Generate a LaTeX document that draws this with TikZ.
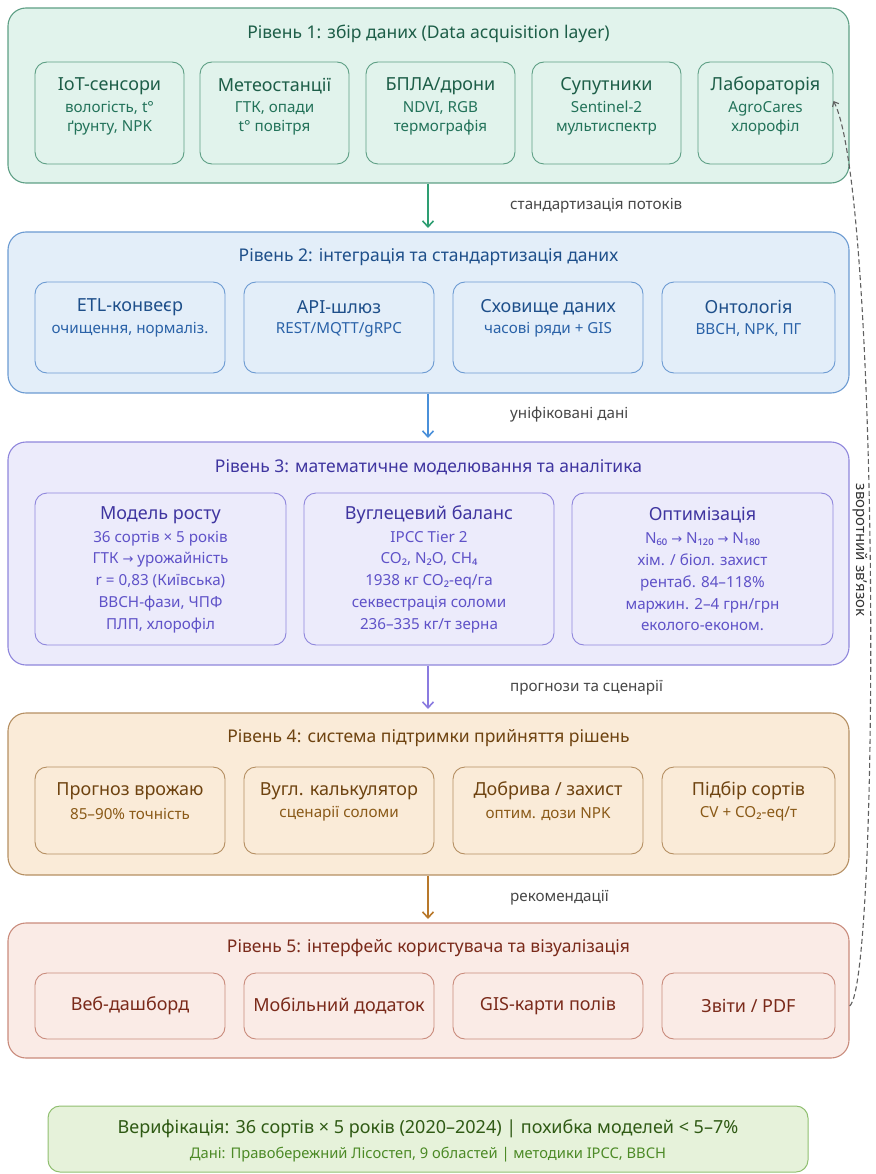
\documentclass[tikz,border=0pt]{standalone}
\usepackage{fontspec}
\setmainfont{Noto Sans}
\newfontfamily\symfont{DejaVu Sans}
\newcommand{\ar}{{\symfont\fontsize{13}{15}\selectfont →}}
\usetikzlibrary{arrows.meta}
\definecolor{gF}{HTML}{E1F3EC}\definecolor{gD}{HTML}{5E9F85}\definecolor{gT}{HTML}{1D5E48}\definecolor{gS}{HTML}{23735A}\definecolor{gA}{HTML}{2E9E72}
\definecolor{bF}{HTML}{E3EEF9}\definecolor{bD}{HTML}{6C9BD2}\definecolor{bT}{HTML}{1E4F8A}\definecolor{bS}{HTML}{2A62A8}\definecolor{bA}{HTML}{4A90DA}
\definecolor{pF}{HTML}{ECEBFB}\definecolor{pD}{HTML}{8F86DC}\definecolor{pT}{HTML}{3F35A0}\definecolor{pS}{HTML}{5F52C8}\definecolor{pA}{HTML}{8A7BE0}
\definecolor{oF}{HTML}{FAEBD8}\definecolor{oD}{HTML}{B58F62}\definecolor{oT}{HTML}{6E4310}\definecolor{oS}{HTML}{8A5A18}\definecolor{oA}{HTML}{B8782A}
\definecolor{rF}{HTML}{FAEBE6}\definecolor{rD}{HTML}{C98B7C}\definecolor{rT}{HTML}{7A2A1A}
\definecolor{vF}{HTML}{E6F2DA}\definecolor{vD}{HTML}{90BF70}\definecolor{vT}{HTML}{2F5A14}\definecolor{vS}{HTML}{4C8A26}
\tikzset{
  layer/.style={draw=#1D,fill=#1F,line width=1.1pt,rounded corners=18pt,minimum width=841pt,inner sep=0pt},
  sub/.style={draw=#1D,fill=#1F,line width=0.9pt,rounded corners=12pt,inner sep=0pt},
  ltitle/.style={text=#1T,font=\fontsize{17.5}{21}\selectfont,inner sep=0pt},
  stitle/.style={text=#1T,font=\fontsize{18}{22}\selectfont,inner sep=0pt},
  sdet/.style={text=#1S,font=\fontsize{15.2}{19}\selectfont,align=center,inner sep=0pt},
  flowarrow/.style={draw=#1A,line width=1.6pt,-{Straight Barb[length=6pt,width=11pt,line width=1.6pt]}},
  flowlabel/.style={text=black!72,font=\fontsize{15.2}{18}\selectfont,anchor=west,inner sep=0pt},
}
\begin{document}
\begin{tikzpicture}[x=1pt,y=-1pt]
\useasboundingbox (0,0) rectangle (875,1174);
% Layer 1
\node[layer=g,minimum height=175pt] (L1) at (428.5,95.5) {};
\node[ltitle=g] (L1t) at (428.5,34) {Рівень 1: збір даних (Data acquisition layer)};
\node[sub=g,minimum width=149pt,minimum height=102pt] (b11) at (109.5,113) {};
\node[sub=g,minimum width=149pt,minimum height=102pt] (b12) at (274.5,113) {};
\node[sub=g,minimum width=149pt,minimum height=102pt] (b13) at (440.5,113) {};
\node[sub=g,minimum width=149pt,minimum height=102pt] (b14) at (606.5,113) {};
\node[sub=g,minimum width=135pt,minimum height=102pt] (b15) at (765.5,113) {};
\node[stitle=g] (b11t) at (109.5,86) {IoT-сенсори};
\node[stitle=g] (b12t) at (274.5,86) {Метеостанції};
\node[stitle=g] (b13t) at (440.5,86) {БПЛА/дрони};
\node[stitle=g] (b14t) at (606.5,86) {Супутники};
\node[stitle=g] (b15t) at (765.5,86) {Лабораторія};
\node[sdet=g] (b11d) at (109.5,118) {вологість, t°\\ґрунту, NPK};
\node[sdet=g] (b12d) at (274.5,118) {ГТК, опади\\t° повітря};
\node[sdet=g] (b13d) at (440.5,118) {NDVI, RGB\\термографія};
\node[sdet=g] (b14d) at (606.5,118) {Sentinel-2\\мультиспектр};
\node[sdet=g] (b15d) at (765.5,118) {AgroCares\\хлорофіл};
% Layer 2
\node[layer=b,minimum height=161pt] (L2) at (428.5,312.5) {};
\node[ltitle=b] (L2t) at (428.5,257) {Рівень 2: інтеграція та стандартизація даних};
\node[sub=b,minimum width=190pt,minimum height=91pt] (b21) at (130,327.5) {};
\node[sub=b,minimum width=190pt,minimum height=91pt] (b22) at (339,327.5) {};
\node[sub=b,minimum width=190pt,minimum height=91pt] (b23) at (548,327.5) {};
\node[sub=b,minimum width=173pt,minimum height=91pt] (b24) at (748.5,327.5) {};
\node[stitle=b] (b21t) at (130,307) {ETL-конвеєр};
\node[stitle=b] (b22t) at (339,307) {API-шлюз};
\node[stitle=b] (b23t) at (548,307) {Сховище даних};
\node[stitle=b] (b24t) at (748.5,307) {Онтологія};
\node[sdet=b] (b21d) at (130,330) {очищення, нормаліз.};
\node[sdet=b] (b22d) at (339,330) {REST/MQTT/gRPC};
\node[sdet=b] (b23d) at (548,330) {часові ряди + GIS};
\node[sdet=b] (b24d) at (748.5,330) {ВВСН, NPK, ПГ};
% Layer 3
\node[layer=p,minimum height=223pt] (L3) at (428.5,553.5) {};
\node[ltitle=p] (L3t) at (428.5,467) {Рівень 3: математичне моделювання та аналітика};
\node[sub=p,minimum width=251pt,minimum height=152pt] (b31) at (160.5,569) {};
\node[sub=p,minimum width=250pt,minimum height=152pt] (b32) at (429,569) {};
\node[sub=p,minimum width=261pt,minimum height=152pt] (b33) at (702.5,569) {};
\node[stitle=p] (b31t) at (160.5,515) {Модель росту};
\node[stitle=p] (b32t) at (429,515) {Вуглецевий баланс};
\node[stitle=p] (b33t) at (702.5,515) {Оптимізація};
\node[sdet=p,font=\fontsize{15.2}{21.8}\selectfont] (b31d) at (160.5,582) {36 сортів × 5 років\\ГТК \ar{} урожайність\\r = 0,83 (Київська)\\ВВСН-фази, ЧПФ\\ПЛП, хлорофіл};
\node[sdet=p,font=\fontsize{15.2}{21.8}\selectfont] (b32d) at (429,582) {IPCC Tier 2\\CO₂, N₂O, CH₄\\1938 кг CO₂-eq/га\\секвестрація соломи\\236–335 кг/т зерна};
\node[sdet=p,font=\fontsize{15.2}{21.8}\selectfont] (b33d) at (702.5,582) {N₆₀ \ar{} N₁₂₀ \ar{} N₁₈₀\\хім. / біол. захист\\рентаб. 84–118\%\\маржин. 2–4 грн/грн\\еколого-економ.};
% Layer 4
\node[layer=o,minimum height=162pt] (L4) at (428.5,794) {};
\node[ltitle=o] (L4t) at (428.5,738) {Рівень 4: система підтримки прийняття рішень};
\node[sub=o,minimum width=190pt,minimum height=87pt] (b41) at (130,810.5) {};
\node[sub=o,minimum width=190pt,minimum height=87pt] (b42) at (339,810.5) {};
\node[sub=o,minimum width=190pt,minimum height=87pt] (b43) at (548,810.5) {};
\node[sub=o,minimum width=173pt,minimum height=87pt] (b44) at (748.5,810.5) {};
\node[stitle=o] (b41t) at (130,791) {Прогноз врожаю};
\node[stitle=o] (b42t) at (339,791) {Вугл. калькулятор};
\node[stitle=o] (b43t) at (548,791) {Добрива / захист};
\node[stitle=o] (b44t) at (748.5,791) {Підбір сортів};
\node[sdet=o] (b41d) at (130,814) {85–90\% точність};
\node[sdet=o] (b42d) at (339,814) {сценарії соломи};
\node[sdet=o] (b43d) at (548,814) {оптим. дози NPK};
\node[sdet=o] (b44d) at (748.5,814) {CV + CO₂-eq/т};
% Layer 5
\node[layer=r,minimum height=135pt] (L5) at (428.5,990.5) {};
\node[ltitle=r] (L5t) at (428.5,948) {Рівень 5: інтерфейс користувача та візуалізація};
\node[sub=r,minimum width=190pt,minimum height=66pt] (b51) at (130,1006) {};
\node[sub=r,minimum width=190pt,minimum height=66pt] (b52) at (339,1006) {};
\node[sub=r,minimum width=190pt,minimum height=66pt] (b53) at (548,1006) {};
\node[sub=r,minimum width=173pt,minimum height=66pt] (b54) at (748.5,1006) {};
\node[stitle=r] (b51t) at (130,1006) {Веб-дашборд};
\node[stitle=r] (b52t) at (339,1006) {Мобільний додаток};
\node[stitle=r] (b53t) at (548,1006) {GIS-карти полів};
\node[stitle=r] (b54t) at (748.5,1006) {Звіти / PDF};
% Verification
\node[draw=vD,fill=vF,line width=1pt,rounded corners=12pt,minimum width=760pt,minimum height=66pt,inner sep=0pt] (V) at (428,1139) {};
\node[text=vT,font=\fontsize{18}{21}\selectfont,inner sep=0pt] (Vt) at (428,1129) {Верифікація: 36 сортів × 5 років (2020–2024) | похибка моделей < 5–7\%};
\node[text=vS,font=\fontsize{14.7}{17}\selectfont,inner sep=0pt] (Vd) at (428,1155) {Дані: Правобережний Лісостеп, 9 областей | методики IPCC, ВВСН};
% Flow arrows
\coordinate (a1s) at (428,183.6); \coordinate (a1e) at (428,228);
\coordinate (a2s) at (428,393.6); \coordinate (a2e) at (428,438);
\coordinate (a3s) at (428,665.6); \coordinate (a3e) at (428,709);
\coordinate (a4s) at (428,875.6); \coordinate (a4e) at (428,919);
\draw[flowarrow=g] (a1s) -- (a1e);
\draw[flowarrow=b] (a2s) -- (a2e);
\draw[flowarrow=p] (a3s) -- (a3e);
\draw[flowarrow=o] (a4s) -- (a4e);
\node[flowlabel] (f1) at (510,206) {стандартизація потоків};
\node[flowlabel] (f2) at (510,415) {уніфіковані дані};
\node[flowlabel] (f3) at (510,688) {прогнози та сценарії};
\node[flowlabel] (f4) at (510,898) {рекомендації};
% Feedback
\coordinate (fbs) at (L5.east |- b54.center);
\draw[black!62,line width=1.1pt,dashed,dash pattern=on 5pt off 3pt,-{Straight Barb[length=4pt,width=7pt,line width=1.1pt]}] (fbs) .. controls (880,985) and (880,190) .. (b15.east |- b15d.north);
\node[rotate=-90,text=black!80,font=\fontsize{15}{17}\selectfont,inner sep=0pt] (fbl) at (860,550) {зворотний зв'язок};
\end{tikzpicture}
\end{document}
